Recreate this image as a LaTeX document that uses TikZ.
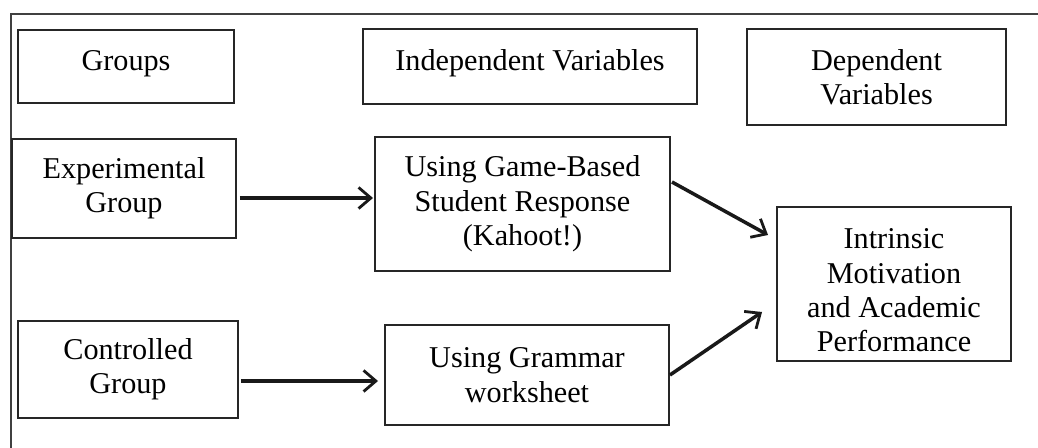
\documentclass[tikz,border=0pt]{standalone}
\usepackage{fontspec}
\setmainfont{Liberation Serif}
\usetikzlibrary{arrows.meta,calc}

\begin{document}
\begin{tikzpicture}[x=0.02cm,y=-0.02cm,
  box/.style={draw=black!85,line width=0.9pt,align=center,inner sep=0pt,outer sep=0pt,
    font=\fontsize{17.2}{19.6}\selectfont},
  arr/.style={draw=black!90,line width=2pt,-{Straight Barb[length=7pt,width=12pt,line width=1.6pt]}}]
\useasboundingbox (0,0) rectangle (1038,448);
\draw[black!75,line width=0.9pt] (11,448) -- (11,14) -- (1038,14);
% header row
\node[box,minimum width=4.32cm,minimum height=1.46cm] (grp) at (126,66.5) {Groups\rule[-0.25cm]{0pt}{0pt}};
\node[box,minimum width=6.68cm,minimum height=1.5cm] (indep) at (530,66.5) {Independent Variables\rule[-0.27cm]{0pt}{0pt}};
\node[box,minimum width=5.18cm,minimum height=1.92cm] (dep) at (876.5,77) {Dependent\\Variables};
% groups and treatments
\node[box,minimum width=4.48cm,minimum height=1.98cm] (exp) at (124,188.5) {Experimental\\Group};
\node[box,minimum width=4.4cm,minimum height=1.94cm] (ctrl) at (128,369.5) {Controlled\\Group};
\node[box,minimum width=5.9cm,minimum height=2.68cm] (kahoot) at (522.5,204) {Using Game-Based\\Student Response\\(Kahoot!)};
\node[box,minimum width=5.68cm,minimum height=2cm] (sheet) at (527,375) {Using Grammar\\worksheet};
\node[box,minimum width=4.68cm,minimum height=3.08cm] (motiv) at (894,284) {\rule{0pt}{0.66cm}Intrinsic\\Motivation\\and Academic\\Performance};
% connectors
\draw[arr] ($(exp.east)+(4,9.5)$) -- ($(exp.east -| kahoot.west)+(-2,9.5)$);
\draw[arr] ($(ctrl.east)+(3,11.5)$) -- ($(ctrl.east -| sheet.west)+(-7,11.5)$);
\draw[arr] ($(kahoot.east)+(2,-22)$) -- ($(motiv.west)+(-9,-49)$);
\draw[arr] ($(sheet.east)+(1,0)$) -- ($(motiv.west)+(-15,28)$);
\end{tikzpicture}
\end{document}
